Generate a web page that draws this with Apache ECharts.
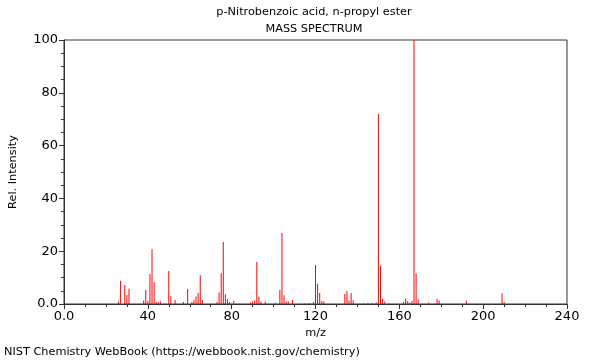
<!DOCTYPE html>
<html><head><meta charset="utf-8">
<script src="https://cdn.jsdelivr.net/npm/echarts@6/dist/echarts.min.js"></script>
<style>html,body{margin:0;padding:0;background:#fff}#c{width:600px;height:360px}</style>
</head><body><div id="c"></div>
<script>
var mz = [26,27,29,30,31,38,39,40,41,42,43,44,45,46,50,51,53,57,59,61,62,63,64,65,66,73,74,75,76,77,78,79,81,89,90,91,92,93,94,96,101,103,104,105,106,107,109,115,117,119,120,121,122,123,124,134,135,136,137,138,143,145,147,149,150,151,152,153,162,163,164,165,166,167,168,169,174,178,179,192,209,210];
var intensity = [0.9,8.8,7.2,3.4,5.8,1.3,5.3,1.1,11.4,20.7,8.2,0.8,0.8,0.9,12.5,3.0,1.5,0.8,5.7,0.8,1.5,2.8,4.2,10.9,1.5,0.8,4.4,11.7,23.5,3.7,1.8,0.8,1.1,0.6,0.9,1.3,15.9,2.8,0.9,0.9,0.5,5.3,26.9,3.3,0.9,0.9,1.5,0.3,0.3,0.8,14.8,7.7,4.2,1.1,0.9,3.8,4.8,1.3,4.2,1.4,0.3,0.3,0.4,0.6,72,14.5,2.0,0.9,0.8,2.1,1.1,0.5,1.1,100,11.6,1.8,0.6,1.9,1.3,1.2,4.0,0.8];
var titleText = "p-Nitrobenzoic acid, n-propyl ester";
var subTitleText = "MASS SPECTRUM";
var xName = "m/z";
var yName = "Rel. Intensity";
var footer = "NIST Chemistry WebBook (https://webbook.nist.gov/chemistry)";

var data = mz.map(function(m, i){ return [m, intensity[i]]; });
var font = "DejaVu Sans";
var chart = echarts.init(document.getElementById('c'));
chart.setOption({
  animation: false,
  textStyle: {fontFamily: font},
  title: [
    {text: titleText, left: 314, top: 7, padding: 0, textAlign: 'center', textStyle: {fontSize: 11.3, fontWeight: 'normal', color: '#000', fontFamily: font}},
    {text: subTitleText, left: 314, top: 24, padding: 0, textAlign: 'center', textStyle: {fontSize: 11.3, fontWeight: 'normal', color: '#000', fontFamily: font}},
    {text: footer, left: 4, top: 347, padding: 0, textStyle: {fontSize: 11.3, fontWeight: 'normal', color: '#000', fontFamily: font}}
  ],
  grid: {left: 62, right: 33, top: 40, bottom: 56, show: true, borderColor: '#333', borderWidth: 1, containLabel: false},
  xAxis: {
    type: 'value', min: 0, max: 240, interval: 40,
    name: xName, nameLocation: 'middle', nameGap: 24,
    nameTextStyle: {fontSize: 11.3, color: '#000', fontFamily: font},
    axisLine: {show: true, onZero: false, lineStyle: {color: '#333'}},
    axisTick: {show: true, length: 5, lineStyle: {color: '#333'}},
    minorTick: {show: true, splitNumber: 4, length: 3, lineStyle: {color: '#333'}},
    splitLine: {show: false},
    axisLabel: {fontSize: 13, color: '#000', margin: 6, fontFamily: font,
      formatter: function(v){ return v === 0 ? '0.0' : String(v); }}
  },
  yAxis: {
    type: 'value', min: 0, max: 100, interval: 20,
    name: yName, nameLocation: 'middle', nameGap: 45, nameRotate: 90,
    nameTextStyle: {fontSize: 11.3, color: '#000', fontFamily: font},
    axisLine: {show: true, lineStyle: {color: '#333'}},
    axisTick: {show: true, length: 5, lineStyle: {color: '#333'}},
    minorTick: {show: true, splitNumber: 4, length: 3, lineStyle: {color: '#333'}},
    splitLine: {show: false},
    axisLabel: {fontSize: 13, color: '#000', margin: 6, fontFamily: font,
      formatter: function(v){ return v === 0 ? '0.0' : String(v); }}
  },
  series: [{
    type: 'bar', data: data, barWidth: 1, barGap: '0%',
    itemStyle: {color: '#ff0000'}, silent: true
  }]
});
</script></body></html>
